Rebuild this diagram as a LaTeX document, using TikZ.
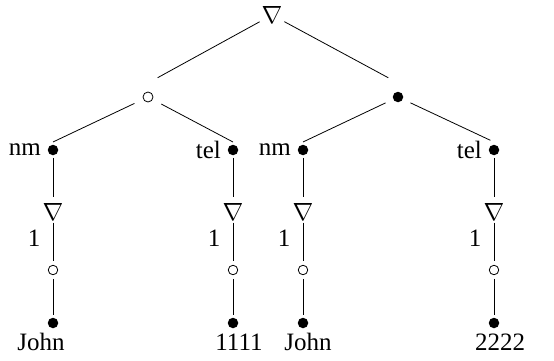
\documentclass[tikz,border=0pt]{standalone}
\usepackage{fontspec}
\setmainfont{Liberation Serif}
\usetikzlibrary{positioning}

\begin{document}
\begin{tikzpicture}[x=1pt, y=-1pt, font=\fontsize{25}{30}\selectfont, line width=0.8pt]
\useasboundingbox (0,0) rectangle (554,361);
% node styles
\tikzset{tri/.style={inner sep=0pt, outer sep=2pt},
         hole/.style={circle, draw, inner sep=0pt, minimum size=9.5pt, outer sep=4pt},
         full/.style={circle, fill, inner sep=0pt, minimum size=10.5pt, outer sep=2.5pt},
         lbl/.style={inner sep=3pt}}
% \chain{name}{x}{leaf}{leaf x}: nabla, 1, hole and leaf under a row-2 dot
\newcommand{\chain}[4]{
  \node[tri] (#1t) at (#2,212) {$\nabla$};
  \node[hole] (#1h) at (#2,270) {};
  \node[full] (#1f) at (#2,323) {};
  \node[anchor=base] (#1w) at (#4,350) {#3};
  \draw[shorten >=5pt] (#1) -- (#1t);
  \draw (#1t) -- node[left=9pt, pos=0.4] (#1n) {1} (#1h);
  \draw (#1h) -- (#1f);}

% ---- root and first row
\node[tri] (root) at (272,15) {$\nabla$};
\node[hole, minimum size=10pt] (l) at (148,97) {};
\node[full] (r) at (398,97) {};
\draw[shorten >=11pt] (root) -- ([yshift=14pt]l.center);
\draw[shorten >=11pt] (root) -- ([yshift=14pt]r.center);

% ---- second row: nm / tel
\node[full] (l1) at (53,150) {};
\node[lbl, left=1pt of l1.west] (l1n) {nm};
\node[full] (l2) at (233,150) {};
\node[lbl, left=1pt of l2.west] (l2n) {tel};
\node[full] (r1) at (303,150) {};
\node[lbl, left=1pt of r1.west] (r1n) {nm};
\node[full] (r2) at (494,150) {};
\node[lbl, left=1pt of r2.west] (r2n) {tel};
\draw[shorten <=6pt] (l) -- ([yshift=8pt]l1.center);
\draw[shorten <=6pt] (l) -- ([yshift=8pt]l2.center);
\draw[shorten <=6pt] (r) -- ([yshift=8pt]r1.center);
\draw[shorten <=6pt, shorten >=4pt] (r) -- ([yshift=8pt]r2.center);

% ---- chains down to the values
\chain{l1}{53}{John}{41}
\chain{l2}{233}{1111}{239}
\chain{r1}{303}{John}{308}
\chain{r2}{494}{2222}{500}
\end{tikzpicture}
\end{document}
